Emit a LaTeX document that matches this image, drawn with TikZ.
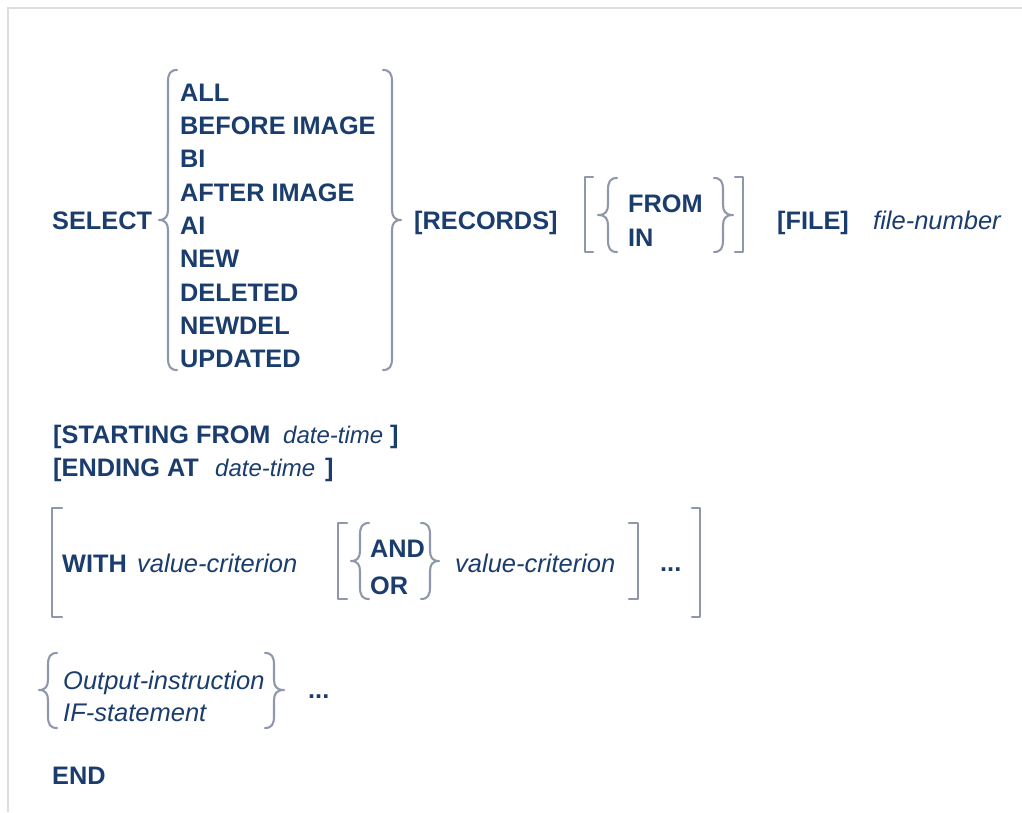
\documentclass[tikz,border=0pt]{standalone}
\usepackage{fontspec}
\setmainfont{Liberation Sans}
\definecolor{txtc}{HTML}{1B3D6D}
\definecolor{brkc}{HTML}{8F98AB}
\definecolor{framec}{HTML}{DDDDE3}
\newcommand\mylbrace[5]{% body x, tip x, top y, mid y, bottom y
  \draw[brcline] (#1+9,#3) .. controls (#1+2,#3) and (#1,#3+4) .. (#1,#3+12) -- (#1,#4-11)
    .. controls (#1,#4-4) and (#1-2,#4) .. (#2,#4) .. controls (#1-2,#4) and (#1,#4+4) .. (#1,#4+11)
    -- (#1,#5-12) .. controls (#1,#5-4) and (#1+2,#5) .. (#1+9,#5);}
\newcommand\myrbrace[5]{%
  \draw[brcline] (#1-9,#3) .. controls (#1-2,#3) and (#1,#3+4) .. (#1,#3+12) -- (#1,#4-11)
    .. controls (#1,#4-4) and (#1+2,#4) .. (#2,#4) .. controls (#1+2,#4) and (#1,#4+4) .. (#1,#4+11)
    -- (#1,#5-12) .. controls (#1,#5-4) and (#1-2,#5) .. (#1-9,#5);}
\newcommand\mylbrack[4]{% x, tick x, top, bottom
  \draw[brkline] (#2,#3) -- (#1,#3) -- (#1,#4) -- (#2,#4);}
\begin{document}
\begin{tikzpicture}[x=1pt,y=-1pt,
  kw/.style={inner sep=0pt, anchor=base west, text=txtc, font=\fontsize{25.3}{30}\selectfont\bfseries},
  var/.style={inner sep=0pt, anchor=base west, text=txtc, font=\fontsize{25.5}{30}\selectfont\itshape},
  brkline/.style={draw=brkc, line width=2.4pt, line cap=round, line join=round},
  brcline/.style={draw=brkc, line width=2.1pt, line cap=round, line join=round},
  framel/.style={draw=framec, line width=2pt}]
\useasboundingbox (0,0) rectangle (1022,812);
\fill[white] (0,0) rectangle (1022,812);
\draw[framel] (8,812) -- (8,8) -- (1022,8);

% SELECT block
\node[kw] (select) at (52,229) {SELECT};
\mylbrace{168}{159}{70}{220}{370}
\node[kw] (all) at (180,101) {ALL};
\node[kw] (bimg) at (180,134.4) {BEFORE IMAGE};
\node[kw] (bi) at (180,167.7) {BI};
\node[kw] (aimg) at (180,201) {AFTER IMAGE};
\node[kw] (ai) at (180,234.4) {AI};
\node[kw] (new) at (180,267.8) {NEW};
\node[kw] (deleted) at (180,301.1) {DELETED};
\node[kw] (newdel) at (180,334.5) {NEWDEL};
\node[kw] (updated) at (180,367.8) {UPDATED};
\myrbrace{392}{401}{70}{220}{370}
\node[kw] (records) at (414,229) {[RECORDS]};
\mylbrack{585}{593}{177}{252}
\mylbrace{608}{598}{178}{215}{252}
\node[kw] (from) at (628,212) {FROM};
\node[kw] (in) at (628,246) {IN};
\myrbrace{723}{733}{178}{215}{252}
\mylbrack{743}{735}{177}{252}
\node[kw] (file) at (777,229) {[FILE]};
\node[var] (filenum) at (873,229) {file-number};

% STARTING / ENDING
\node[kw] (starting) at (53,443) {[STARTING FROM};
\node[var, font=\fontsize{24}{30}\selectfont\itshape] (dt1) at (283,443) {date-time};
\node[kw] (cl1) at (390,443) {]};
\node[kw] (ending) at (53,476) {[ENDING AT};
\node[var, font=\fontsize{24}{30}\selectfont\itshape] (dt2) at (215,476) {date-time};
\node[kw] (cl2) at (325,476) {]};

% WITH block
\mylbrack{52}{62}{508}{617}
\node[kw] (with) at (62,572) {WITH};
\node[var] (vc1) at (137,572) {value-criterion};
\mylbrack{338}{347}{523}{599}
\mylbrace{360}{351}{523}{561}{599}
\node[kw] (and) at (370,557) {AND};
\node[kw] (or) at (370,594) {OR};
\myrbrace{430}{439}{523}{561}{599}
\node[var] (vc2) at (455,572) {value-criterion};
\mylbrack{638}{629}{523}{599}
\node[kw] (dots1) at (660,571) {...};
\mylbrack{700}{692}{508}{617}

% Output block
\mylbrace{48}{39}{653}{690}{728}
\node[var] (outinst) at (63,689) {Output-instruction};
\node[var] (ifstmt) at (63,721) {IF-statement};
\myrbrace{274}{284}{653}{690}{728}
\node[kw] (dots2) at (308,698) {...};

\node[kw] (end) at (52,784) {END};
\end{tikzpicture}
\end{document}
